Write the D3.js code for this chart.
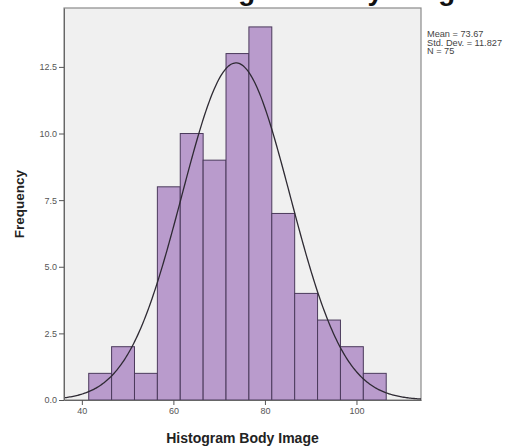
<!DOCTYPE html>
<html>
<head>
<meta charset="utf-8" />
<script src="https://cdnjs.cloudflare.com/ajax/libs/d3/7.8.5/d3.min.js"></script>
<style>
    body {
        margin: 0;
        background: #fff;
    }
    svg {
        display: block;
        font-family: 'Liberation Sans', Arial, sans-serif;
    }
    .tick text {
        fill: #555;
        font-size: 9px;
    }
    .tick line {
        stroke: #555;
    }
    .bar {
        fill: #b99bcc;
        stroke: #4b3a5c;
        stroke-width: 1;
    }
</style>
</head>
<body>
<div id="chart"></div>

<script>
    // bins of 5, lower edges of each bar
    const binStarts = [41.5, 46.5, 51.5, 56.5, 61.5, 66.5, 71.5, 76.5, 81.5, 86.5, 91.5, 96.5, 101.5]
    const counts = [1, 2, 1, 8, 10, 9, 13, 14, 7, 4, 3, 2, 1]
    const binWidth = 5

    const xTicks = [40, 60, 80, 100]
    const yTicks = [0, 2.5, 5, 7.5, 10, 12.5]

    const statLabels = ['Mean = 73.67', 'Std. Dev. = 11.827', 'N = 75']
    const mean = 73.67
    const sd = 11.827
    const n = 75

    const W = 517, H = 448
    const plot = { left: 64, right: 421, top: 8, bottom: 400 }

    let xScale = d3.scaleLinear()
        .domain([36.1, 114.1])
        .range([plot.left, plot.right])

    let yScale = d3.scaleLinear()
        .domain([0, 14.71])
        .range([plot.bottom, plot.top])

    const svg = d3.select('#chart')
        .append('svg')
        .attr('width', W)
        .attr('height', H)

    // title, mostly cut off at the top edge (as in the source picture)
    svg.append('text')
        .attr('x', 169)
        .attr('y', 0)
        .style('font-size', '27.7px')
        .style('font-weight', 'bold')
        .style('fill', '#111')
        .text('Histogram Body Image')

    svg.append('rect')
        .attr('x', plot.left)
        .attr('y', plot.top)
        .attr('width', plot.right - plot.left)
        .attr('height', plot.bottom - plot.top)
        .attr('fill', '#f0f0f0')
        .attr('stroke', '#8a8a8a')
        .attr('stroke-width', 1.2)

    const data = binStarts.map(function(s, i) {
        return { x0: s, x1: s + binWidth, count: counts[i] }
    })

    svg.append('g')
        .selectAll('rect')
        .data(data)
        .enter()
        .append('rect')
            .attr('class', 'bar')
            .attr('x', function(d) { return xScale(d.x0) })
            .attr('width', function(d) { return xScale(d.x1) - xScale(d.x0) })
            .attr('y', function(d) { return yScale(d.count) })
            .attr('height', function(d) { return yScale(0) - yScale(d.count) })

    // normal curve from the stats in the legend
    function normal(x) {
        const z = (x - mean) / sd
        return n * binWidth / (sd * Math.sqrt(2 * Math.PI)) * Math.exp(-0.5 * z * z)
    }
    const curveX = d3.range(36.1, 114.2, 0.25)
    const line = d3.line()
        .x(function(d) { return xScale(d) })
        .y(function(d) { return yScale(normal(d)) })

    svg.append('path')
        .datum(curveX)
        .attr('d', line)
        .attr('fill', 'none')
        .attr('stroke', '#2e2a33')
        .attr('stroke-width', 1.3)

    // axes
    svg.append('g')
        .attr('transform', 'translate(0,' + plot.bottom + ')')
        .call(d3.axisBottom(xScale).tickValues(xTicks).tickSize(5).tickSizeOuter(0).tickPadding(3))
        .call(function(g) { g.select('.domain').attr('stroke', '#666') })

    svg.append('g')
        .attr('transform', 'translate(' + plot.left + ',0)')
        .call(d3.axisLeft(yScale).tickValues(yTicks).tickFormat(d3.format('.1f')).tickSize(5).tickSizeOuter(0).tickPadding(2))
        .call(function(g) { g.select('.domain').attr('stroke', '#666') })

    svg.append('text')
        .attr('x', (plot.left + plot.right) / 2)
        .attr('y', 443)
        .attr('text-anchor', 'middle')
        .style('font-size', '14px')
        .style('font-weight', 'bold')
        .style('fill', '#222')
        .text('Histogram Body Image')

    svg.append('text')
        .attr('transform', 'translate(24,' + ((plot.top + plot.bottom) / 2) + ') rotate(-90)')
        .attr('text-anchor', 'middle')
        .style('font-size', '13.5px')
        .style('font-weight', 'bold')
        .style('fill', '#222')
        .text('Frequency')

    svg.append('g')
        .selectAll('text')
        .data(statLabels)
        .enter()
        .append('text')
            .attr('x', 427)
            .attr('y', function(d, i) { return 37 + i * 8.5 })
            .style('font-size', '9.2px')
            .style('fill', '#444')
            .text(function(d) { return d })
</script>
</body>
</html>
